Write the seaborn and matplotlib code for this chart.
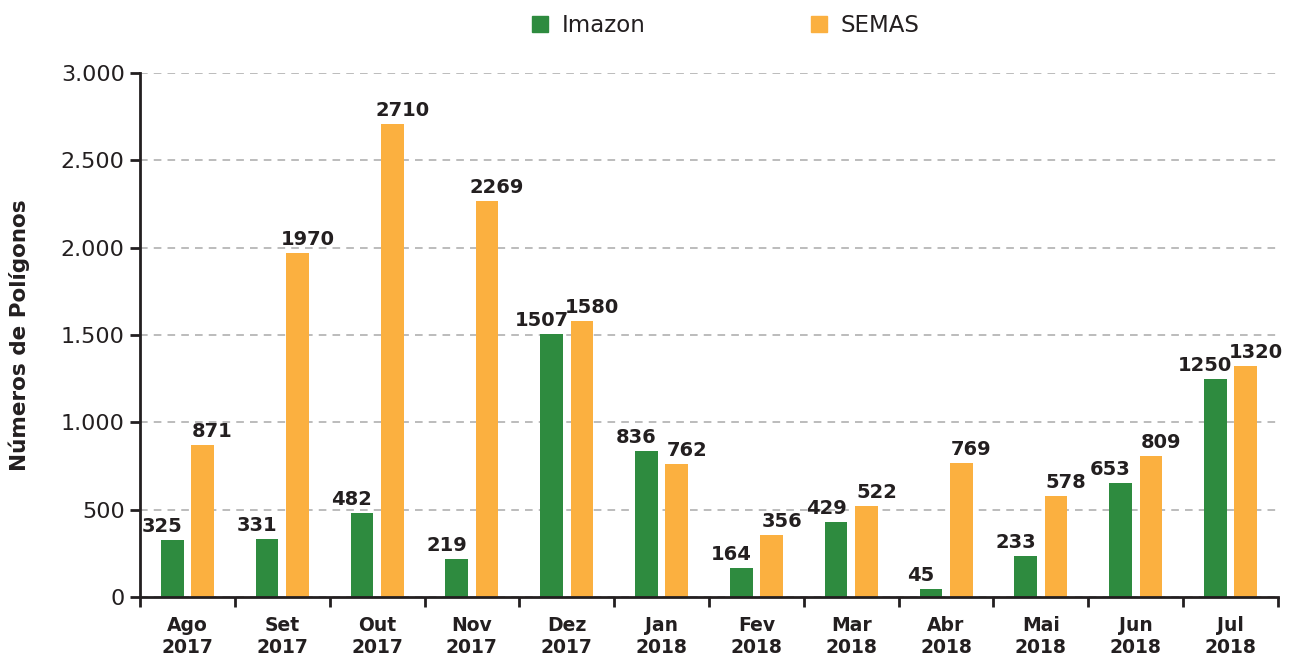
import pandas as pd
import numpy as np
import matplotlib
matplotlib.use("Agg")
import matplotlib.pyplot as plt
import seaborn as sns
from matplotlib.ticker import FuncFormatter, FixedLocator

# Data
months = ["Ago\n2017", "Set\n2017", "Out\n2017", "Nov\n2017", "Dez\n2017", "Jan\n2018",
          "Fev\n2018", "Mar\n2018", "Abr\n2018", "Mai\n2018", "Jun\n2018", "Jul\n2018"]
imazon = [325, 331, 482, 219, 1507, 836, 164, 429, 45, 233, 653, 1250]
semas = [871, 1970, 2710, 2269, 1580, 762, 356, 522, 769, 578, 809, 1320]
series = ["Imazon", "SEMAS"]
colors = ["#2E8B3F", "#FBB040"]

df = pd.DataFrame({
    "mes": months * 2,
    "fonte": ["Imazon"] * len(months) + ["SEMAS"] * len(months),
    "valor": imazon + semas,
})

sns.set_style("white")
plt.rcParams['font.family'] = ['DejaVu Sans']

fig = plt.figure(figsize=(12.91, 6.59), dpi=100)
ax = fig.add_axes([140 / 1291, 1 - 597 / 659, (1278 - 140) / 1291, (597 - 73) / 659])

sns.barplot(data=df, x="mes", y="valor", hue="fonte", order=months, hue_order=series,
            palette=colors, width=0.64, gap=0.25, saturation=1, linewidth=0,
            ax=ax, legend=False)

ax.set_ylim(0, 3000)
ax.set_xlim(-0.5, len(months) - 0.5)
ax.yaxis.set_major_locator(FixedLocator([0, 500, 1000, 1500, 2000, 2500, 3000]))
ax.yaxis.set_major_formatter(FuncFormatter(lambda v, p: f"{int(v):,}".replace(",", ".")))
ax.yaxis.grid(True, linestyle=(0, (5, 4)), color="#aaaaaa", linewidth=1.1)
ax.set_axisbelow(True)

for s in ["top", "right"]:
    ax.spines[s].set_visible(False)
for s in ["left", "bottom"]:
    ax.spines[s].set_color("#231f20")
    ax.spines[s].set_linewidth(2)

ax.tick_params(axis="y", which="major", left=True, length=7, width=2, color="#231f20",
               labelsize=16, labelcolor="#231f20", pad=4)
ax.tick_params(axis="x", which="major", bottom=True, length=0, labelsize=13.5, pad=14)
ax.set_xticks(np.arange(-0.5, len(months) + 0.5, 1), minor=True)
ax.tick_params(axis="x", which="minor", bottom=True, length=7, width=2, color="#231f20",
               direction="out")
for lab in ax.get_xticklabels():
    lab.set_fontweight("bold")
    lab.set_color("#231f20")
    lab.set_linespacing(1.2)

ax.set_xlabel("")
ax.set_ylabel("Números de Polígonos", fontsize=15.5, fontweight="bold", color="#231f20",
              labelpad=22)

# value labels above bars
for i, cont in enumerate(ax.containers):
    shift = -10 if i == 0 else 10
    for bar, val in zip(cont, imazon if i == 0 else semas):
        ax.annotate(str(val), (bar.get_x() + bar.get_width() / 2, bar.get_height()),
                    xytext=(shift, 4), textcoords="offset pixels", ha="center", va="bottom",
                    fontsize=14, fontweight="bold", color="#231f20")

handles = [plt.Rectangle((0, 0), 1, 1, color=c) for c in colors]
fig.legend(handles, series, loc="center", bbox_to_anchor=(0.562, 0.962), ncol=2,
           frameon=False, fontsize=16.5, handlelength=0.7, handleheight=0.7,
           columnspacing=7.2, handletextpad=0.6, labelcolor="#231f20")

fig.savefig("out.png", dpi=100)
